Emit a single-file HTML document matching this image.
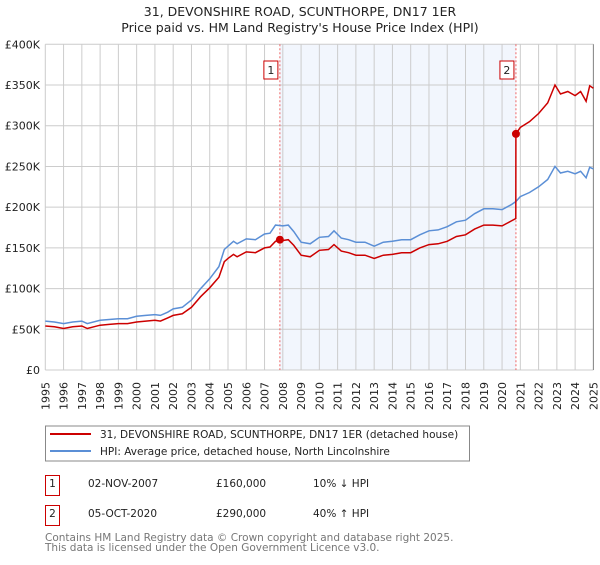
<!DOCTYPE html>
<html><head><meta charset="utf-8"><style>
body{margin:0;background:#fff;font-family:"Liberation Sans","DejaVu Sans",sans-serif}
svg text{font-family:"DejaVu Sans","Liberation Sans",sans-serif}
</style></head><body>
<svg id="c" width="600" height="560" xmlns="http://www.w3.org/2000/svg">
<text x="300" y="16" text-anchor="middle" font-size="12.5" fill="#222">31, DEVONSHIRE ROAD, SCUNTHORPE, DN17 1ER</text>
<text x="300" y="32" text-anchor="middle" font-size="12.5" fill="#222">Price paid vs. HM Land Registry's House Price Index (HPI)</text>
<g id="plot"></g>
<rect x="45.5" y="426" width="424" height="35" fill="#fff" stroke="#888"/>
<line x1="50" y1="434" x2="91" y2="434" stroke="#cc0000" stroke-width="2"/>
<text x="100" y="438" font-size="10.5" fill="#222">31, DEVONSHIRE ROAD, SCUNTHORPE, DN17 1ER (detached house)</text>
<line x1="50" y1="451" x2="91" y2="451" stroke="#5b8fd6" stroke-width="2"/>
<text x="100" y="455" font-size="10.5" fill="#222">HPI: Average price, detached house, North Lincolnshire</text>
<g font-size="10.5" fill="#222">
<rect x="45.5" y="475.5" width="14" height="20" fill="#fff" stroke="#cc0000"/><text x="52.5" y="487" text-anchor="middle">1</text>
<text x="88" y="487">02-NOV-2007</text><text x="216" y="487">£160,000</text><text x="313" y="487">10% ↓ HPI</text>
<rect x="45.5" y="505.5" width="14" height="20" fill="#fff" stroke="#cc0000"/><text x="52.5" y="517" text-anchor="middle">2</text>
<text x="88" y="517">05-OCT-2020</text><text x="216" y="517">£290,000</text><text x="313" y="517">40% ↑ HPI</text>
</g>
<text x="45" y="541" font-size="10.5" fill="#777">Contains HM Land Registry data © Crown copyright and database right 2025.</text>
<text x="45" y="551" font-size="10.5" fill="#777">This data is licensed under the Open Government Licence v3.0.</text>
</svg>
<script>
const hpiYears=[1995,1995.5,1996,1996.5,1997,1997.3,1998,1998.5,1999,1999.5,2000,2000.5,2001,2001.3,2001.7,2002,2002.5,2003,2003.5,2004,2004.5,2004.8,2005,2005.3,2005.5,2006,2006.5,2007,2007.3,2007.6,2008,2008.3,2008.6,2009,2009.5,2010,2010.5,2010.8,2011.2,2011.6,2012,2012.5,2013,2013.5,2014,2014.5,2015,2015.5,2016,2016.5,2017,2017.5,2018,2018.5,2019,2019.5,2020,2020.5,2020.76,2021,2021.5,2022,2022.5,2022.9,2023.2,2023.6,2024,2024.3,2024.6,2024.8,2025];
const hpiValues=[60,59,57,59,60,57,61,62,63,63,66,67,68,67,71,75,77,86,100,112,127,148,152,158,155,161,160,167,168,178,177,178,170,157,155,163,164,171,162,160,157,157,152,157,158,160,160,166,171,172,176,182,184,192,198,198,197,203,207,213,218,225,234,250,242,244,241,244,236,249,247];
const propYears=[1995,1995.5,1996,1996.5,1997,1997.3,1998,1998.5,1999,1999.5,2000,2000.5,2001,2001.3,2001.7,2002,2002.5,2003,2003.5,2004,2004.5,2004.8,2005,2005.3,2005.5,2006,2006.5,2007,2007.3,2007.6,2007.84,2008,2008.3,2008.6,2009,2009.5,2010,2010.5,2010.8,2011.2,2011.6,2012,2012.5,2013,2013.5,2014,2014.5,2015,2015.5,2016,2016.5,2017,2017.5,2018,2018.5,2019,2019.5,2020,2020.5,2020.75,2020.76,2021,2021.5,2022,2022.5,2022.9,2023.2,2023.6,2024,2024.3,2024.6,2024.8,2025];
const propValues=[54,53,51,53,54,51,55,56,57,57,59,60,61,60,64,67,69,77,90,101,114,133,137,142,139,145,144,150,151,158,160,159,160,153,141,139,147,148,154,146,144,141,141,137,141,142,144,144,150,154,155,158,164,166,173,178,178,177,183,186,290,298,305,315,328,350,339,342,337,342,330,349,346];
const saleYears=[2007.84,2020.76];
const saleValues=[160,290];
const saleLabels=["1","2"];
const yTicks=[0,50,100,150,200,250,300,350,400];
const yTickLabels=["£0","£50K","£100K","£150K","£200K","£250K","£300K","£350K","£400K"];
const xTicks=[1995,1996,1997,1998,1999,2000,2001,2002,2003,2004,2005,2006,2007,2008,2009,2010,2011,2012,2013,2014,2015,2016,2017,2018,2019,2020,2021,2022,2023,2024,2025];

const L=45.3,R=593.4,T=44.3,B=370;
const X=y=>L+(y-1995)*(R-L)/30;
const Y=v=>B-v*(B-T)/400;
const NS="http://www.w3.org/2000/svg";
const g=document.getElementById('plot');
function mk(t,a){const e=document.createElementNS(NS,t);for(const k in a)e.setAttribute(k,a[k]);g.appendChild(e);return e;}
let sh=mk('rect',{x:X(saleYears[0]),y:T,width:X(saleYears[1])-X(saleYears[0]),height:B-T,fill:'#f2f6fd'});


xTicks.forEach(t=>{let l=mk('line',{x1:X(t),x2:X(t),y1:T,y2:B,stroke:'#cccccc'});


let tx=mk('text',{x:0,y:0,'font-size':11,fill:'#222','text-anchor':'end',transform:`translate(${X(t)+4},382) rotate(-90)`});tx.textContent=t;

});
yTicks.forEach((t,i)=>{let l=mk('line',{x1:L,x2:R,y1:Y(t),y2:Y(t),stroke:'#cccccc'});


let tx=mk('text',{x:40,y:Y(t)+4,'font-size':11,fill:'#222','text-anchor':'end'});tx.textContent=yTickLabels[i];

});
let ax=mk('line',{x1:R,x2:R,y1:T,y2:B,stroke:'#888'});


saleYears.forEach((s,i)=>{let l=mk('line',{x1:X(s),x2:X(s),y1:T,y2:B,stroke:'#ee6666','stroke-dasharray':'2,2'});


let r=mk('rect',{x:X(s)-16,y:61,width:14,height:18,fill:'#fff',stroke:'#cc0000'});


let tx=mk('text',{x:X(s)-9,y:74,'font-size':11,fill:'#222','text-anchor':'middle'});tx.textContent=saleLabels[i];

});
const pts=(xs,vs)=>xs.map((x,i)=>X(x).toFixed(1)+','+Y(vs[i]).toFixed(1)).join(' ');
let h=mk('polyline',{points:pts(hpiYears,hpiValues),fill:'none',stroke:'#5b8fd6','stroke-width':1.5});


let p=mk('polyline',{points:pts(propYears,propValues),fill:'none',stroke:'#cc0000','stroke-width':1.5});


saleYears.forEach((s,i)=>{let c=mk('circle',{cx:X(s),cy:Y(saleValues[i]),r:4,fill:'#cc0000'});

});
</script>
</body></html>
